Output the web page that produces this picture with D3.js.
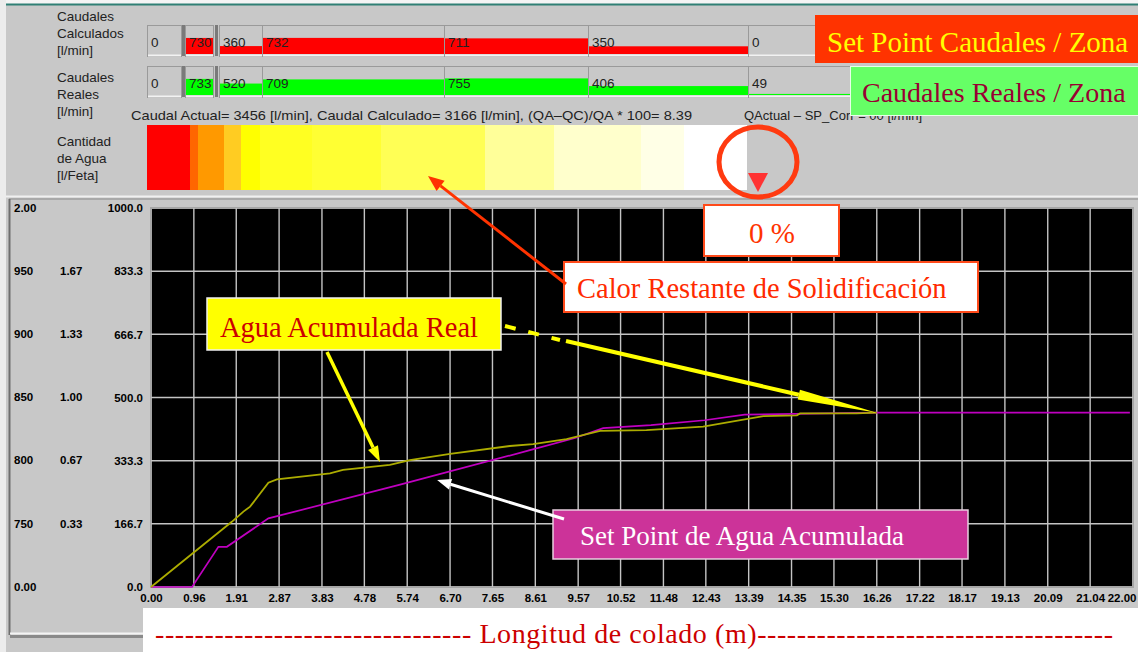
<!DOCTYPE html>
<html>
<head>
<meta charset="utf-8">
<script src="https://cdn.jsdelivr.net/npm/d3@7"></script>
<style>
body{margin:0;background:#c8c8c8;overflow:hidden}
svg{display:block}
</style>
</head>
<body>
<svg id="chart" width="1138" height="652"></svg>
<script>
const zonasCalc = [0, 730, 360, 732, 711, 350, 0];
const zonasReal = [0, 733, 520, 709, 755, 406, 49];

// franjas de color (limites en fetas) y su color
const franjaLim = [0, 43, 51, 77, 94, 113, 165, 234, 338, 407, 494, 537, 600];
const franjaColor = ["#ff0000","#ff6600","#ff9900","#ffcc22","#ffff00","#ffff22",
                     "#ffff33","#ffff55","#ffff99","#ffffcc","#ffffe6","#ffffff"];

// eje x
const xTickLabels = ["0.00","0.96","1.91","2.87","3.83","4.78","5.74","6.70","7.65","8.61",
  "9.57","10.52","11.48","12.43","13.39","14.35","15.30","16.26","17.22","18.17",
  "19.13","20.09","21.04","22.00"];
// ejes y (tres columnas)
const yTicks = [0, 166.7, 333.3, 500, 666.7, 833.3, 1000];
const yCol1 = ["0.00","750","800","850","900","950","2.00"];
const yCol2 = ["","0.33","0.67","1.00","1.33","1.67",""];

// set point de agua acumulada (magenta)
const spX = [0, 0.92, 1.51, 1.70, 2.63, 5.58, 8.49, 9.50, 10.13, 11.2, 12.4, 13.3, 16.26, 21.93];
const spY = [0, 0, 106, 106, 181, 270, 361, 393, 419, 427, 440, 455, 460, 460];
// agua acumulada real (amarillo)
const realX = [0, 1.81, 2.07, 2.22, 2.63, 2.82, 4.01, 4.30, 5.35, 5.80, 6.70, 8.04, 8.56,
  9.31, 10.06, 11.1, 12.37, 13.72, 14.47, 14.54, 15.8, 16.26];
const realY = [0, 172, 199, 212, 275, 284, 300, 309, 322, 335, 351, 372, 377,
  390, 412, 414, 423, 451, 453, 458, 458, 460];

const W = 1138, H = 652;
const sans = '"Liberation Sans", Arial, sans-serif';
const serif = '"Liberation Serif", "Times New Roman", serif';

const svg = d3.select("#chart");

// fondo
svg.append("rect").attr("width", W).attr("height", H).attr("fill", "#c8c8c8");
svg.append("rect").attr("width", W).attr("height", 4).attr("fill", "#f4f4f4");
svg.append("rect").attr("width", 6).attr("height", H).attr("fill", "#ececec");
svg.append("line").attr("x1", 6).attr("x2", W).attr("y1", 4.5).attr("y2", 4.5)
  .attr("stroke", "#2f7f74").attr("stroke-width", 2);

// ---- panel superior ----
const etiquetas = [["Caudales","Calculados","[l/min]"],["Caudales","Reales","[l/min]"],["Cantidad","de Agua","[l/Feta]"]];
const etiqY = [21, 82, 146];
etiquetas.forEach((lin, i) => {
  svg.append("text").attr("x", 57).attr("y", etiqY[i])
    .attr("font-family", sans).attr("font-size", 13.5).attr("fill", "#222")
    .selectAll("tspan").data(lin).join("tspan")
    .attr("x", 57).attr("dy", (d, j) => j ? 17 : 0).text(d => d);
});

// celdas de zonas
const celdas = [[147,181],[185,213],[219,262],[262,444],[444,588],[588,748],[748,870]];
const barH = d3.scaleLinear().domain([0, 1000]).range([0, 22]);

function filaZonas(vals, y0, y1, color, base) {
  const g = svg.append("g");
  celdas.forEach((c, i) => {
    g.append("rect").attr("x", c[0] + 0.5).attr("y", y0 + 0.5)
      .attr("width", c[1] - c[0]).attr("height", y1 - y0)
      .attr("fill", "#c8c8c8").attr("stroke", "#9a9a9a");
    g.append("line").attr("x1", c[0] + 1).attr("x2", c[1]).attr("y1", y1 - 0.5).attr("y2", y1 - 0.5)
      .attr("stroke", "#f2f2f2").attr("stroke-width", 2);
    g.append("rect").attr("x", c[0] + 1).attr("width", c[1] - c[0] - 1)
      .attr("y", y1 - 2 - barH(vals[i])).attr("height", barH(vals[i]))
      .attr("fill", color);
    g.append("text").attr("x", c[0] + 4).attr("y", base)
      .attr("font-family", sans).attr("font-size", 13.5).attr("fill", "#222")
      .text(vals[i]);
  });
  // separadores dobles
  [183, 216].forEach(sx => {
    g.append("rect").attr("x", sx - 1).attr("y", y0).attr("width", 3).attr("height", y1 - y0)
      .attr("fill", "#7a7a7a");
  });
}
filaZonas(zonasCalc, 25, 56, "#ff0000", 47);
filaZonas(zonasReal, 66, 97, "#00ff00", 88);

// linea de informacion
svg.append("text").attr("x", 131).attr("y", 120)
  .attr("font-family", sans).attr("font-size", 13).attr("fill", "#222")
  .attr("textLength", 561).attr("lengthAdjust", "spacingAndGlyphs")
  .text("Caudal Actual= 3456 [l/min], Caudal Calculado= 3166 [l/min], (QA\u2013QC)/QA * 100= 8.39");
svg.append("text").attr("x", 744).attr("y", 120)
  .attr("font-family", sans).attr("font-size", 13).attr("fill", "#222")
  .text("QActual \u2013 SP_Corr = 00 [l/min]");

// franja de cantidad de agua
const fx = d3.scaleLinear().domain([0, 600]).range([147, 747]);
svg.append("g").selectAll("rect").data(franjaColor).join("rect")
  .attr("x", (d, i) => fx(franjaLim[i])).attr("width", (d, i) => fx(franjaLim[i + 1]) - fx(franjaLim[i]))
  .attr("y", 125).attr("height", 65).attr("fill", d => d);

// etiquetas de caudales por zona
svg.append("rect").attr("x", 815).attr("y", 15).attr("width", W - 815).attr("height", 48).attr("fill", "#ff3300");
svg.append("text").attr("x", 827).attr("y", 52).attr("font-family", serif).attr("font-size", 29)
  .attr("fill", "#ffff00").text("Set Point Caudales / Zona");
svg.append("rect").attr("x", 850.5).attr("y", 66.5).attr("width", W - 850).attr("height", 49)
  .attr("fill", "#66ff66").attr("stroke", "#e8ffe8");
svg.append("text").attr("x", 862).attr("y", 102).attr("font-family", serif).attr("font-size", 28)
  .attr("fill", "#990033").text("Caudales Reales / Zona");

// ---- panel del grafico ----
svg.append("rect").attr("x", 9).attr("y", 198).attr("width", W - 9).attr("height", 437)
  .attr("fill", "#c8c8c8");
svg.append("line").attr("x1", 6).attr("x2", W).attr("y1", 196.5).attr("y2", 196.5).attr("stroke", "#f0f0f0").attr("stroke-width", 2);
svg.append("line").attr("x1", 9).attr("x2", W).attr("y1", 199).attr("y2", 199).attr("stroke", "#8a8a8a");
svg.append("line").attr("x1", 9.5).attr("x2", 9.5).attr("y1", 199).attr("y2", 635).attr("stroke", "#6e6e6e").attr("stroke-width", 2);
svg.append("line").attr("x1", 10).attr("x2", W).attr("y1", 633.5).attr("y2", 633.5).attr("stroke", "#f4f4f4").attr("stroke-width", 2);
svg.append("line").attr("x1", 10).attr("x2", W).attr("y1", 636.5).attr("y2", 636.5).attr("stroke", "#8a8a8a").attr("stroke-width", 3);

const x = d3.scaleLinear().domain([0, 22]).range([151, 1133]);
const y = d3.scaleLinear().domain([0, 1000]).range([587, 208]);

svg.append("rect").attr("x", x(0)).attr("y", y(1000)).attr("width", x(22) - x(0)).attr("height", y(0) - y(1000))
  .attr("fill", "#000").attr("stroke", "#a6a6a6").attr("stroke-width", 2);

const xVals = xTickLabels.map(Number);
const grid = svg.append("g").attr("stroke", "#c4c4c4").attr("stroke-width", 1.4);
grid.selectAll(".gx").data(xVals.slice(1, -1)).join("line")
  .attr("x1", d => x(d)).attr("x2", d => x(d)).attr("y1", y(1000)).attr("y2", y(0));
grid.selectAll(".gy").data(yTicks.slice(1, -1)).join("line")
  .attr("x1", x(0)).attr("x2", x(22)).attr("y1", d => y(d)).attr("y2", d => y(d));

// eje x
const ax = svg.append("g").attr("transform", `translate(0,${y(0)})`)
  .call(d3.axisBottom(x).tickValues(xVals).tickFormat((d, i) => xTickLabels[i]).tickSize(0).tickPadding(7));
ax.select(".domain").remove();
ax.selectAll("text").attr("font-family", sans).attr("font-size", 11.5).attr("font-weight", "bold").attr("fill", "#000");
// la ultima etiqueta queda pegada al borde derecho
ax.selectAll(".tick").filter(d => d === 22).select("text").attr("text-anchor", "end").attr("x", 3);

// ejes y
const ay = svg.append("g").attr("transform", "translate(143,0)")
  .call(d3.axisLeft(y).tickValues(yTicks).tickFormat(d3.format(".1f")).tickSize(0).tickPadding(0));
ay.select(".domain").remove();
ay.selectAll("text").attr("font-family", sans).attr("font-size", 11.5).attr("font-weight", "bold").attr("fill", "#000");

svg.append("g").selectAll("text").data(yCol1).join("text")
  .attr("x", 14).attr("y", (d, i) => y(yTicks[i])).attr("dy", "0.32em")
  .attr("font-family", sans).attr("font-size", 11.5).attr("font-weight", "bold").text(d => d);
svg.append("g").selectAll("text").data(yCol2).join("text")
  .attr("x", 60).attr("y", (d, i) => y(yTicks[i])).attr("dy", "0.32em")
  .attr("font-family", sans).attr("font-size", 11.5).attr("font-weight", "bold").text(d => d);

// series
const linea = d3.line().x(d => x(d[0])).y(d => y(d[1]));
svg.append("path").datum(d3.zip(spX, spY)).attr("d", linea)
  .attr("fill", "none").attr("stroke", "#c000c0").attr("stroke-width", 1.7);
svg.append("path").datum(d3.zip(realX, realY)).attr("d", linea)
  .attr("fill", "none").attr("stroke", "#acac00").attr("stroke-width", 1.8);

// ---- anotaciones ----
function flecha(x1, y1, x2, y2, color, ancho, largo, cabeza, dash) {
  const a = Math.atan2(y2 - y1, x2 - x1);
  const bx = x2 - largo * Math.cos(a), by = y2 - largo * Math.sin(a);
  svg.append("line").attr("x1", x1).attr("y1", y1).attr("x2", bx).attr("y2", by)
    .attr("stroke", color).attr("stroke-width", ancho).attr("stroke-dasharray", dash || null);
  const px = -Math.sin(a) * cabeza / 2, py = Math.cos(a) * cabeza / 2;
  svg.append("polygon")
    .attr("points", [[x2, y2], [bx + px, by + py], [bx - px, by - py]].map(p => p.join(",")).join(" "))
    .attr("fill", color);
}

function caja(x0, y0, w, h, fill, stroke, sw) {
  svg.append("rect").attr("x", x0).attr("y", y0).attr("width", w).attr("height", h)
    .attr("fill", fill).attr("stroke", stroke).attr("stroke-width", sw);
}

// circulo y triangulo de 0 %
svg.append("ellipse").attr("cx", 758).attr("cy", 162).attr("rx", 39).attr("ry", 35)
  .attr("fill", "none").attr("stroke", "#ff3a10").attr("stroke-width", 5);
svg.append("polygon").attr("points", "748,173 768,173 758,192").attr("fill", "#ff3333");

caja(704, 205, 135, 51, "#fff", "#ff4a1a", 2);
svg.append("text").attr("x", 772).attr("y", 243).attr("text-anchor", "middle")
  .attr("font-family", serif).attr("font-size", 29).attr("fill", "#ff3300").text("0 %");

caja(564, 262, 414, 50, "#fff", "#ff4a1a", 2);
svg.append("text").attr("x", 577).attr("y", 298)
  .attr("font-family", serif).attr("font-size", 28.5).attr("fill", "#ff2a00").text("Calor Restante de Solidificación");
flecha(566, 284, 428, 176, "#ff3300", 3, 16, 13);

caja(207, 298, 294, 52, "#ffff00", "#f0f0f0", 1.5);
svg.append("text").attr("x", 220).attr("y", 337)
  .attr("font-family", serif).attr("font-size", 28.5).attr("fill", "#cc0000").text("Agua Acumulada Real");
flecha(327, 352, x(5.13), y(330), "#ffff00", 3.5, 16, 11);

// flecha larga hacia el punto final
svg.append("line").attr("x1", 505).attr("y1", 326).attr("x2", 560).attr("y2", 340)
  .attr("stroke", "#ffff00").attr("stroke-width", 4).attr("stroke-dasharray", "11,13");
flecha(566, 341, x(16.26), y(460), "#ffff00", 4, 80, 10);

caja(553, 510, 415, 49, "#cc3399", "#e8d0e0", 1.5);
svg.append("text").attr("x", 580).attr("y", 545)
  .attr("font-family", serif).attr("font-size", 27).attr("fill", "#fff").text("Set Point de Agua Acumulada");
flecha(564, 519, x(6.41), y(282), "#ffffff", 3, 14, 11);

// titulo del eje x
svg.append("rect").attr("x", 143).attr("y", 608).attr("width", W - 143).attr("height", H - 608).attr("fill", "#fff");
svg.append("text").attr("x", 155).attr("y", 643)
  .attr("font-family", serif).attr("font-size", 28).attr("fill", "#cc0000")
  .attr("textLength", 958).attr("lengthAdjust", "spacing")
  .text("-".repeat(32) + " Longitud de colado (m)" + "-".repeat(36));
</script>
</body>
</html>
